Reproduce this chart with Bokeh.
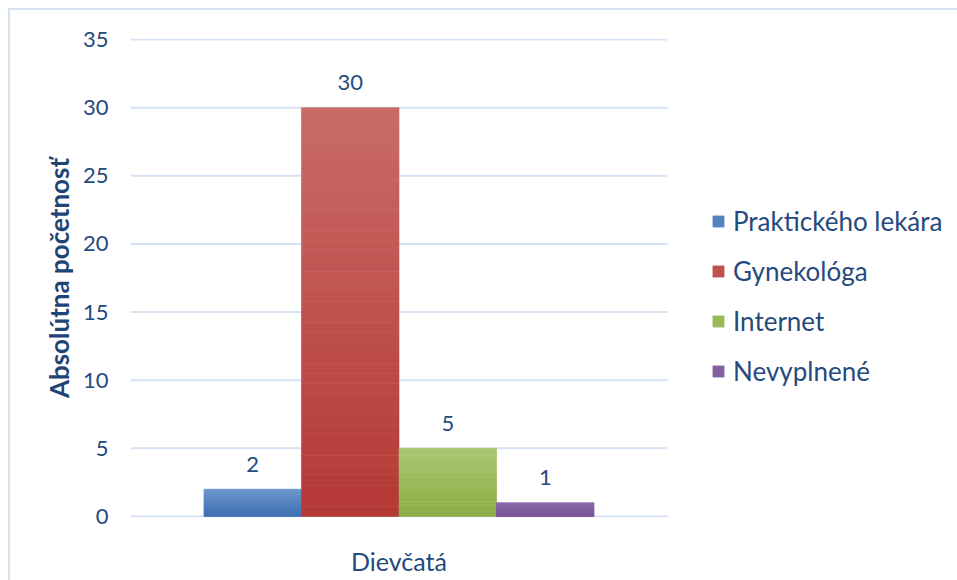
from bokeh.plotting import figure
from bokeh.models import (ColumnDataSource, Range1d, Legend, LegendItem,
                          FixedTicker, InlineStyleSheet)
from bokeh.core.properties import value
from bokeh.embed import file_html
from bokeh.resources import INLINE

# --- data -------------------------------------------------------------
group = "Dievčatá"
series = ["Praktického lekára", "Gynekológa", "Internet", "Nevyplnené"]
counts = [2, 30, 5, 1]
y_ticks = [0, 5, 10, 15, 20, 25, 30, 35]
# gradient colours per series: (top, bottom)
top_colors = ["#6c95cd", "#c96b67", "#a8c66f", "#8c6dab"]
bottom_colors = ["#3a6db0", "#b53835", "#8aad42", "#775196"]

FONT = "Lato"
TEXT = "#254a7d"
GRID = "#d6e1f1"

# thin chart border on the top and left edges
border_css = InlineStyleSheet(css="""
:host { position: relative; background: white; }
:host::after { content: ""; position: absolute; left: 8px; top: 8px; right: 0; bottom: 0;
  border-left: 2px solid #d6e1f1; border-top: 2px solid #d6e1f1; pointer-events: none; }
""")

W, H = 957, 580
LEFT, PLOT_W = 130, 537          # plot area (grid) width in pixels
pad = 0.075                      # keeps the 0 and 35 grid lines fully drawn
p = figure(width=W, height=H, output_backend="svg", toolbar_location=None,
           x_range=Range1d(0, (W - LEFT) / PLOT_W),
           y_range=Range1d(y_ticks[0] - pad, y_ticks[-1] + pad),
           min_border_left=LEFT, min_border_right=0,
           min_border_top=38, min_border_bottom=63)
p.outline_line_color = None
p.background_fill_color = "white"
p.border_fill_color = None
p.stylesheets = [border_css]
p.xgrid.grid_line_color = None
p.ygrid.grid_line_color = None

# horizontal grid lines across the plot area only
p.segment(x0=[0] * len(y_ticks), x1=[1] * len(y_ticks), y0=y_ticks, y1=y_ticks,
          line_color=GRID, line_width=2)


def hex_to_rgb(h):
    return tuple(int(h[i:i + 2], 16) for i in (1, 3, 5))


def mix(c1, c2, t):
    a, b = hex_to_rgb(c1), hex_to_rgb(c2)
    return "#%02x%02x%02x" % tuple(round(a[k] + (b[k] - a[k]) * t) for k in range(3))


bar_w = 0.1816
center = 0.5
n_slices = 40
items = []
for i, (name, v) in enumerate(zip(series, counts)):
    xc = center + (i - 1.5) * bar_w
    bottoms, tops, colors = [], [], []
    for k in range(n_slices):
        bottoms.append(v * k / n_slices)
        tops.append(v * (k + 1) / n_slices)
        colors.append(mix(bottom_colors[i], top_colors[i], (k + 0.5) / n_slices))
    src = ColumnDataSource(dict(
        left=[xc - bar_w / 2] * n_slices, right=[xc + bar_w / 2] * n_slices,
        bottom=bottoms, top=tops, color=colors))
    r = p.quad(left="left", right="right", bottom="bottom", top="top",
               fill_color="color", line_color="color", line_width=0.6, source=src)
    items.append(LegendItem(label=name, renderers=[r], index=n_slices // 2))

    p.text(x=[xc], y=[v], text=[str(v)],
           text_font=value(FONT), text_font_size="22px", text_color=TEXT,
           text_align="center", text_baseline="middle", y_offset=-25)

# axes
p.yaxis.ticker = FixedTicker(ticks=y_ticks)
p.yaxis.axis_line_color = None
p.yaxis.major_tick_line_color = None
p.yaxis.minor_tick_line_color = None
p.yaxis.major_label_standoff = 16
p.yaxis.major_label_text_font = FONT
p.yaxis.major_label_text_font_size = "22px"
p.yaxis.major_label_text_color = TEXT
p.yaxis.axis_label = "Absolútna početnosť"
p.yaxis.axis_label_text_font = FONT
p.yaxis.axis_label_text_font_style = "bold"
p.yaxis.axis_label_text_font_size = "26px"
p.yaxis.axis_label_text_color = "#1f4577"
p.yaxis.axis_label_standoff = 5

p.xaxis.ticker = FixedTicker(ticks=[center])
p.xaxis.major_label_overrides = {center: group}
p.xaxis.axis_line_color = None
p.xaxis.major_tick_line_color = None
p.xaxis.minor_tick_line_color = None
p.xaxis.major_label_standoff = 22
p.xaxis.major_label_text_font = FONT
p.xaxis.major_label_text_font_size = "25px"
p.xaxis.major_label_text_color = TEXT

legend = Legend(items=items, location=(581, 130), orientation="vertical",
                glyph_width=14, glyph_height=14, label_standoff=8,
                label_text_font=FONT, label_text_font_size="26px",
                label_text_color=TEXT, label_height=31, spacing=18,
                padding=0, margin=0, border_line_color=None,
                background_fill_color=None)
p.add_layout(legend, "center")

open("out.html", "w").write(file_html(p, INLINE))
